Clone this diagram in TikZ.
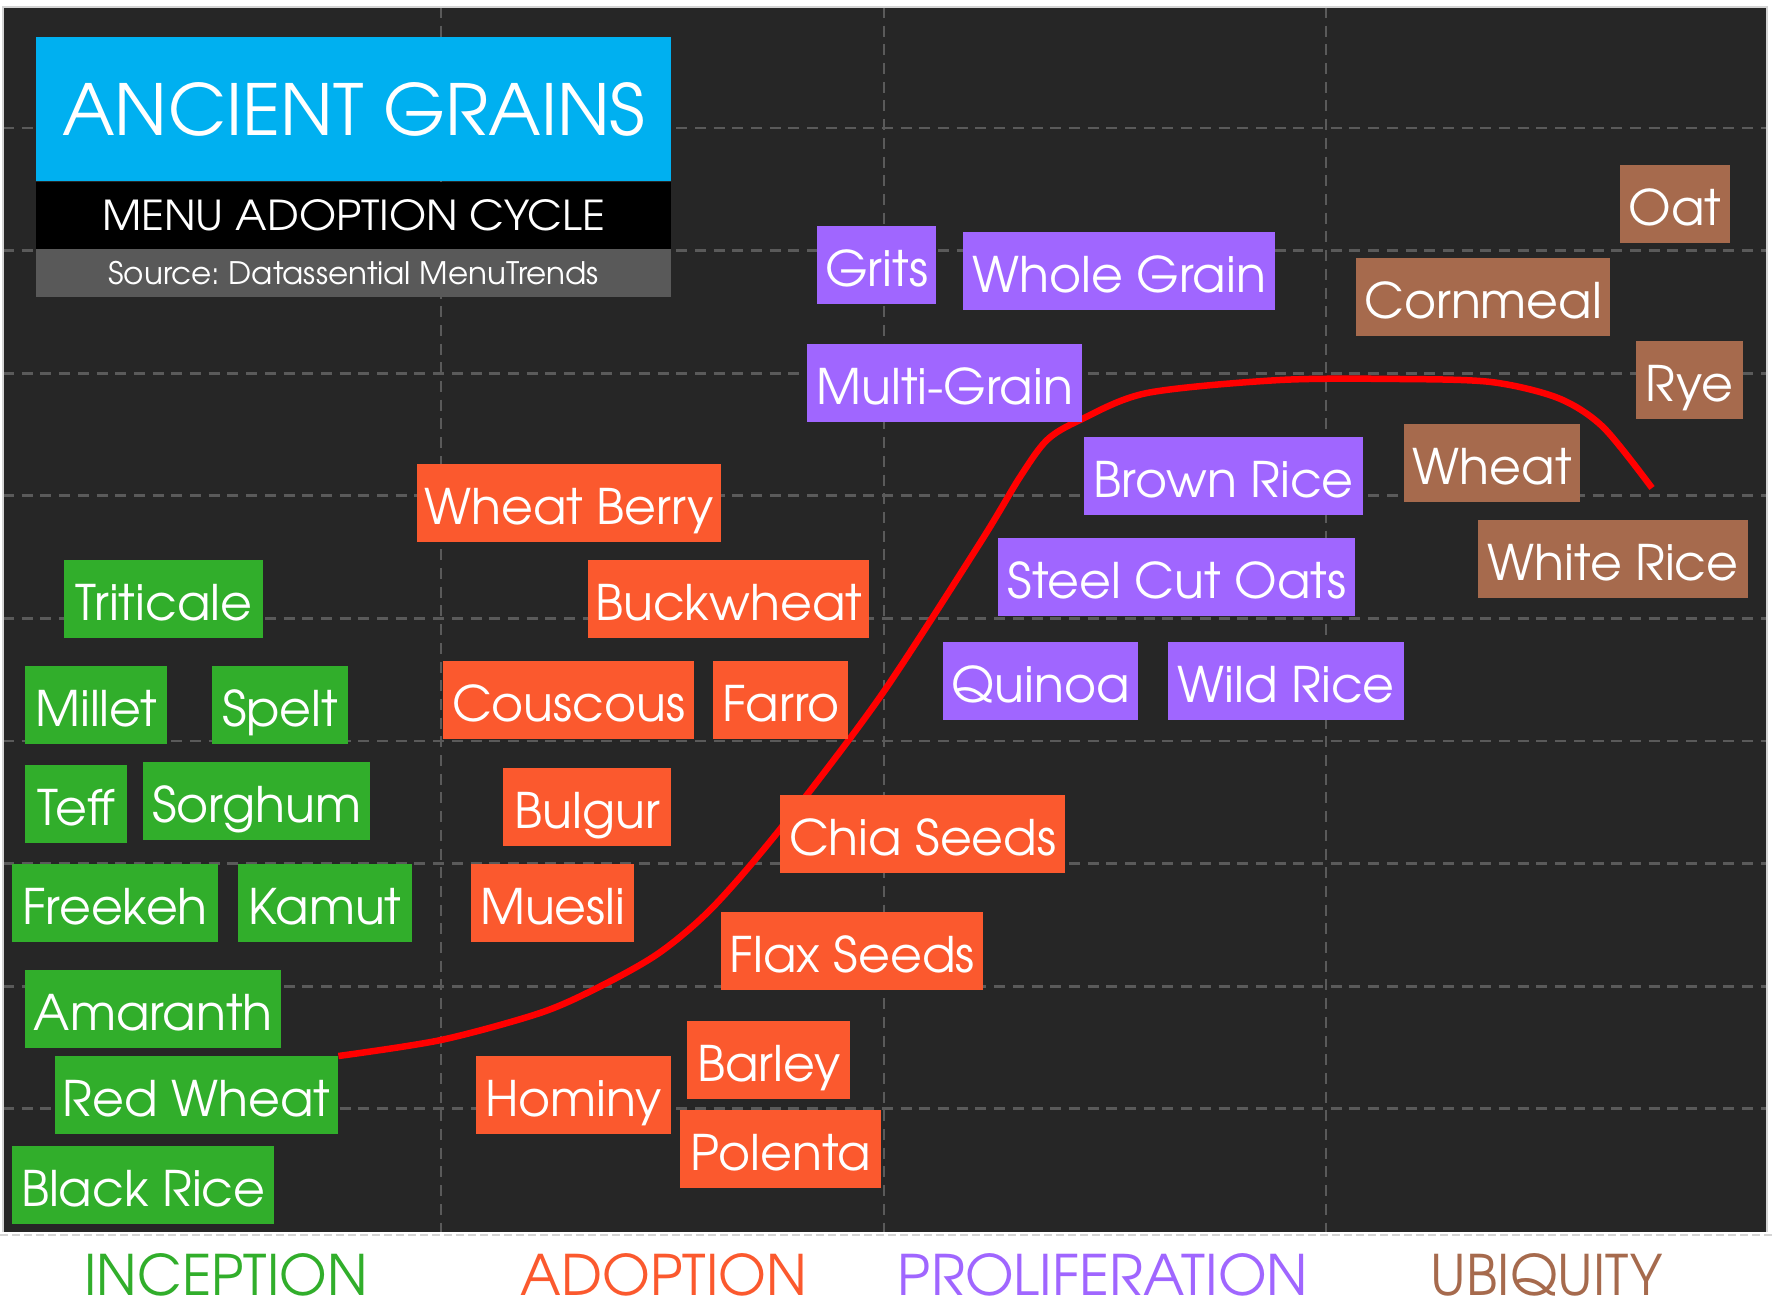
\documentclass[tikz,border=0pt]{standalone}
\usepackage{fontspec}
\setmainfont{TeX Gyre Adventor}
\usetikzlibrary{positioning,backgrounds}
\definecolor{panel}{HTML}{262626}
\definecolor{gridgray}{HTML}{5A5A5A}
\definecolor{framegray}{HTML}{D4D4D4}
\definecolor{tblue}{HTML}{00B0F0}
\definecolor{titlegray}{HTML}{595959}
\definecolor{incgreen}{HTML}{31AE2B}
\definecolor{adoorange}{HTML}{FB592E}
\definecolor{propurple}{HTML}{A066FF}
\definecolor{ubibrown}{HTML}{A66A4D}

\begin{document}
\begin{tikzpicture}[
  x=1pt, y=-1pt,
  grain/.style={anchor=north west, inner sep=0pt, minimum height=78pt,
                text height=42pt, text depth=0pt, text=white,
                font=\fontsize{49}{58}\selectfont},
  w/.style={minimum width=#1pt},
  inc/.style={grain, fill=incgreen},
  ado/.style={grain, fill=adoorange},
  pro/.style={grain, fill=propurple},
  ubi/.style={grain, fill=ubibrown},
  band/.style={minimum width=635pt, inner sep=0pt, text=white},
  stage/.style={anchor=base, inner sep=0pt},
  gridline/.style={draw=gridgray, line width=2.7pt, dash pattern=on 11pt off 7.7pt},
  frame/.style={draw=framegray, line width=1.2pt},
  trend/.style={draw=red, line width=6.5pt}
]
\useasboundingbox (0,0) rectangle (1775,1303);

% title block
\node[band, fill=tblue, minimum height=144pt, anchor=north west] (title) at (36,37)
  {\resizebox{583pt}{53pt}{ANCIENT GRAINS}};
\node[band, fill=black, minimum height=67pt, below=0pt of title] (subtitle)
  {\resizebox{503pt}{31pt}{MENU ADOPTION CYCLE}};
\node[band, fill=titlegray, minimum height=48pt, below=0pt of subtitle] (source)
  {\fontsize{31}{38}\selectfont\frenchspacing Source: Datassential MenuTrends};

% inception
\node[inc, w=199] (triticale) at (64,560) {Triticale};
\node[inc, w=142] (millet) at (25,666) {Millet};
\node[inc, w=136] (spelt) at (212,666) {Spelt};
\node[inc, w=102] (teff) at (25,765) {Teff};
\node[inc, w=227] (sorghum) at (143,762) {Sorghum};
\node[inc, w=206] (freekeh) at (12,864) {Freekeh};
\node[inc, w=174] (kamut) at (238,864) {Kamut};
\node[inc, w=256] (amaranth) at (25,970) {Amaranth};
\node[inc, w=283] (rwheat) at (55,1056) {Red Wheat};
\node[inc, w=262] (blrice) at (12,1146) {Black Rice};

% adoption
\node[ado, w=304] (wberry) at (417,464) {Wheat Berry};
\node[ado, w=281] (buckwheat) at (588,560) {Buckwheat};
\node[ado, w=251] (couscous) at (443,661) {Couscous};
\node[ado, w=135] (farro) at (713,661) {Farro};
\node[ado, w=168] (bulgur) at (503,768) {Bulgur};
\node[ado, w=163] (muesli) at (471,864) {Muesli};
\node[ado, w=285] (chia) at (780,795) {Chia Seeds};
\node[ado, w=262] (flax) at (721,912) {Flax Seeds};
\node[ado, w=163] (barley) at (687,1021) {Barley};
\node[ado, w=195] (hominy) at (476,1056) {Hominy};
\node[ado, w=201] (polenta) at (680,1110) {Polenta};

% proliferation
\node[pro, w=119] (grits) at (817,226) {Grits};
\node[pro, w=312] (wgrain) at (963,232) {Whole Grain};
\node[pro, w=275] (mgrain) at (807,344) {Multi-Grain};
\node[pro, w=279] (bnrice) at (1084,437) {Brown Rice};
\node[pro, w=357] (scoats) at (998,538) {Steel Cut Oats};
\node[pro, w=195] (quinoa) at (943,642) {Quinoa};
\node[pro, w=236] (wlrice) at (1168,642) {Wild Rice};

% ubiquity
\node[ubi, w=110] (oat) at (1620,165) {Oat};
\node[ubi, w=254] (cornmeal) at (1356,258) {Cornmeal};
\node[ubi, w=107] (rye) at (1636,341) {Rye};
\node[ubi, w=176] (wheat) at (1404,424) {Wheat};
\node[ubi, w=270] (whrice) at (1478,520) {White Rice};

% stage labels
\node[stage, text=incgreen] (inception) at (226,1295) {\resizebox{283pt}{42pt}{INCEPTION}};
\node[stage, text=adoorange] (adoption) at (664,1295) {\resizebox{286pt}{42pt}{ADOPTION}};
\node[stage, text=propurple] (proliferation) at (1103,1295) {\resizebox{410pt}{42pt}{PROLIFERATION}};
\node[stage, text=ubibrown] (ubiquity) at (1547,1295) {\resizebox{232pt}{42pt}{UBIQUITY}};

\begin{pgfonlayer}{background}
  \fill[white] (0,0) rectangle (1775,1303);
  \fill[panel] (3,7) rectangle (1767,1232);
  \foreach \k in {0,...,8}
    \draw[gridline] (3,{128+122.6*\k}) -- (1767,{128+122.6*\k});
  \foreach \x in {441,884,1326}
    \draw[gridline] (\x,7) -- (\x,1232);
  \draw[frame] (3,1232) -- (3,7) -- (1767,7) -- (1767,1232);
  \draw[frame, dash pattern=on 8pt off 4pt] (0,1235) -- (1775,1235);
  \draw[trend] plot[smooth, tension=0.5] coordinates {(rwheat.north east)
    (441,1040) (540,1013) (599,987) (659,953) (713,907) (781,828) (880,697)
    (980,543) (1020,477) (1047,440) (1080,420) (1147,393) (1280,380)
    (1400,379) (1491,382) (1558,398) (1603,427) (1652,488)};
\end{pgfonlayer}
\end{tikzpicture}
\end{document}
